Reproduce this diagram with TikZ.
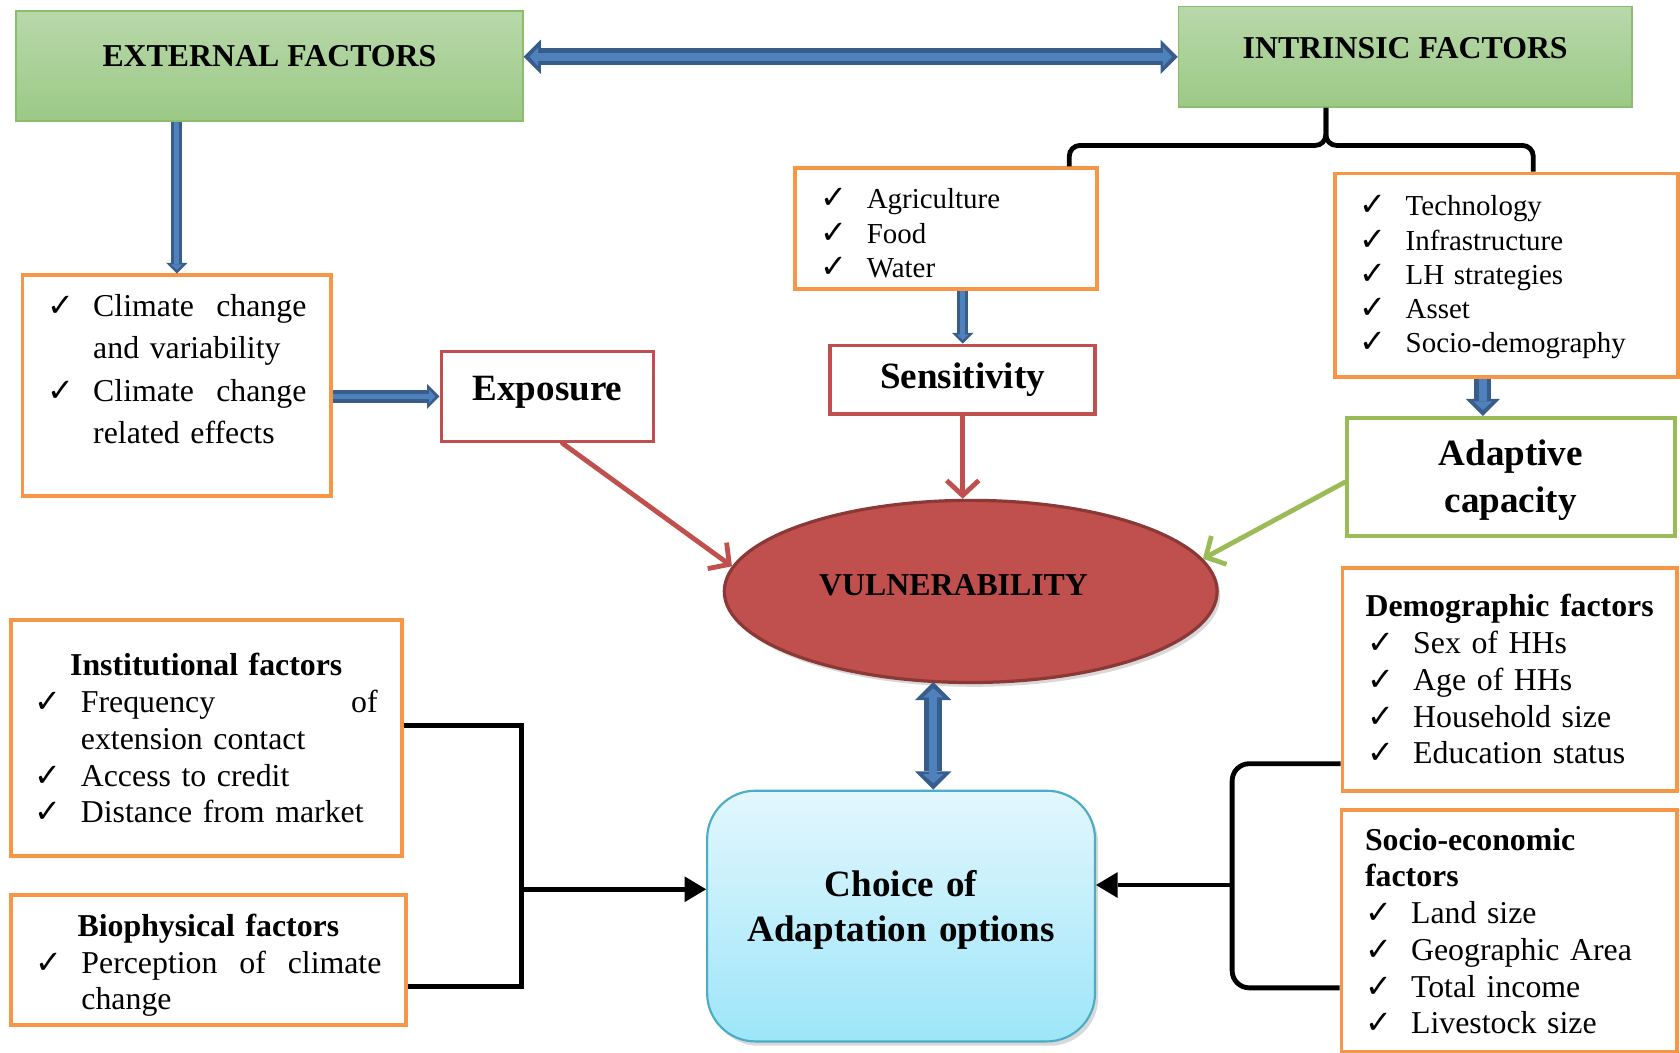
\documentclass[tikz,border=0pt]{standalone}
\usepackage{fontspec}
\setmainfont{Liberation Serif}
\newfontfamily\tickfont{DejaVu Sans}
\usetikzlibrary{positioning, arrows.meta, calc, shapes.geometric, shadows}
\definecolor{orng}{HTML}{F79646}
\definecolor{redc}{HTML}{C0504D}
\definecolor{reddk}{HTML}{8C3836}
\definecolor{grnc}{HTML}{9BBB59}
\definecolor{grnlt}{HTML}{B8D8AA}
\definecolor{grnmd}{HTML}{9CC986}
\definecolor{grnbd}{HTML}{8CBC6E}
\definecolor{bluelt}{HTML}{4F81BD}
\definecolor{bluedk}{HTML}{385D8A}
\definecolor{cyanbd}{HTML}{4BACC6}
\definecolor{cyantop}{HTML}{E3F7FD}
\definecolor{cyanbot}{HTML}{9DE5F9}

\newcommand{\ckm}{\makebox[43pt][l]{\tickfont\fontsize{30}{30}\selectfont ✓}}
\newcommand{\ckind}{\hspace*{43pt}}
\newcommand{\spread}{\hskip 0pt plus 1filll\relax}
\newcommand{\ctitle}[1]{\makebox[\linewidth]{\bfseries #1}}

\begin{document}
\begin{tikzpicture}[
  x=1pt, y=-1pt,
  hdr/.style={draw=grnbd, line width=1.5pt, top color=grnlt, bottom color=grnmd,
              font=\fontsize{29.7}{34}\selectfont\bfseries, inner sep=0pt},
  lst/.style={draw=orng, line width=3.5pt, fill=white, align=left, inner sep=0pt},
  lsts/.style={lst, font=\fontsize{27}{32}\selectfont},
  lstb/.style={lst, font=\fontsize{29.7}{34.3}\selectfont},
  key/.style={draw=redc, line width=3.5pt, fill=white, inner sep=0pt,
              font=\fontsize{34.6}{44}\selectfont\bfseries},
  vulner/.style={ellipse, draw=reddk, line width=3pt, fill=redc, inner sep=0pt,
                 font=\fontsize{29.7}{34}\selectfont\bfseries,
                 drop shadow={shadow xshift=3pt, shadow yshift=-4pt, fill=black!30, opacity=.5}},
  opts/.style={draw=cyanbd, line width=2pt, rounded corners=45pt, top color=cyantop,
               bottom color=cyanbot, align=center, inner sep=0pt,
               font=\fontsize{34.6}{42}\selectfont\bfseries,
               drop shadow={shadow xshift=3pt, shadow yshift=-4pt, fill=black!30, opacity=.5}},
  blk/.style={preaction={draw=bluedk, line width=#1*10pt, shorten >=0pt,
                -{Triangle[length=10pt, width=20pt, scale=#1, line width=0pt]}},
              draw=bluelt, line width=#1*4.5pt, shorten >=#1*3.5pt,
              -{Triangle[length=5pt, width=11pt, scale=#1, line width=0pt]}},
  blk/.default=1,
  dblk/.style={preaction={draw=bluedk, line width=#1*10pt, shorten <=0pt, shorten >=0pt,
                {Triangle[length=10pt, width=20pt, scale=#1, line width=0pt]}-{Triangle[length=10pt, width=20pt, scale=#1, line width=0pt]}},
               draw=bluelt, line width=#1*4.5pt, shorten <=#1*3.5pt, shorten >=#1*3.5pt,
               {Triangle[length=5pt, width=11pt, scale=#1, line width=0pt]}-{Triangle[length=5pt, width=11pt, scale=#1, line width=0pt]}},
  dblk/.default=1,
  redarr/.style={draw=redc, line width=4.5pt, line cap=round,
                 -{Straight Barb[length=14pt, width=30pt]}},
  brace/.style={draw=black, line width=4.5pt, rounded corners=10pt},
  conn/.style={draw=black, line width=4.5pt},
  connarr/.style={conn, -{Triangle[length=20pt, width=24pt, line width=0pt]}},
]
\useasboundingbox (0,0) rectangle (1568,982);

% ── factor headers ───────────────────────────────────────────────────────────
\node[hdr, minimum width=473pt, minimum height=103pt, text depth=19pt] (ext)
    at (251.5,61.5) {EXTERNAL FACTORS};
\node[hdr, minimum width=423pt, minimum height=94pt, text depth=17pt] (intr)
    at (1311.5,53) {INTRINSIC FACTORS};

% ── exposure side ────────────────────────────────────────────────────────────
\node[lst, font=\fontsize{29.7}{39.5}\selectfont, text width=242pt,
      minimum width=288pt, minimum height=206pt, text depth=150pt] (clim) at (165,360)
    {\ckm Climate\spread change\\
     \ckind and variability\\
     \ckm Climate\spread change\\
     \ckind related effects};
\node[key, minimum width=198pt, minimum height=84pt, text depth=15pt] (expo)
    at (511,370) {Exposure};

% ── sensitivity side ─────────────────────────────────────────────────────────
\node[lsts, text width=234pt, minimum width=282pt, minimum height=113pt,
      text depth=56pt] (agri) at (883,213.5)
    {\ckm Agriculture\\ \ckm Food\\ \ckm Water};
\node[key, minimum width=247pt, minimum height=64pt, below=49pt of agri, xshift=15.5pt]
    (sens) {Sensitivity};

% ── adaptive capacity side ───────────────────────────────────────────────────
\node[lsts, text width=274pt, minimum width=320pt, minimum height=190pt,
      text depth=130pt] (tech) at (1406,257)
    {\ckm Technology\\ \ckm Infrastructure\\ \ckm LH strategies\\
     \ckm Asset\\ \ckm Socio-demography};
\node[key, draw=grnc, align=center, text width=260pt, minimum width=306pt,
      minimum height=110pt, text depth=45pt] (adapt) at (1410,445) {Adaptive\\capacity};

% ── core ─────────────────────────────────────────────────────────────────────
\node[vulner, minimum width=460pt, minimum height=170pt, text depth=12pt] (vul)
    at (906,552) {VULNERABILITY\kern32pt};
\node[opts, text width=330pt, minimum width=362pt, minimum height=234pt,
      text depth=61pt] (choice) at (841,855) {Choice of\\Adaptation options};

% ── determinants of the choice ───────────────────────────────────────────────
\node[lstb, text width=320pt, minimum width=365pt, minimum height=220pt] (inst)
    at (192.5,689)
    {\ctitle{Institutional factors}\\
     \ckm Frequency\spread of\\
     \ckind extension contact\\
     \ckm Access to credit\\
     \ckm Distance from market};
\node[lstb, text width=323pt, minimum width=369pt, minimum height=122pt,
      text depth=65pt] (bio) at (194.5,896)
    {\ctitle{Biophysical factors}\\
     \ckm Perception\spread of\spread climate\\
     \ckind change};
\node[lstb, text width=266pt, minimum width=312pt, minimum height=208pt] (demo)
    at (1409,634)
    {\ctitle{Demographic factors}\\
     \ckm Sex of HHs\\ \ckm Age of HHs\\ \ckm Household size\\ \ckm Education status};
\node[lstb, text width=269pt, minimum width=313pt, minimum height=226pt] (socio)
    at (1408.5,869)
    {\textbf{Socio-economic}\\ \textbf{factors}\\
     \ckm Land size\\ \ckm Geographic Area\\ \ckm Total income\\ \ckm Livestock size};

% ── connectors ───────────────────────────────────────────────────────────────
\draw[dblk=1.6] (ext.east |- intr.west) -- (intr.west);
\draw[blk] (clim.north |- ext.south) -- (clim.north);
\draw[blk=1.15] (clim.east |- expo.west) -- (expo.west);
\draw[blk] (agri.south -| sens.north) -- (sens.north);
\draw[blk=1.6] ([xshift=-22pt]tech.south) -- ([xshift=-22pt]tech.south |- adapt.north);
\draw[dblk=1.7] ([xshift=30pt]choice.north) -- ([xshift=30pt,yshift=2pt]choice.north |- vul.south);

\draw[redarr] ([xshift=14pt]expo.south) -- (vul.174);
\draw[redarr] (sens.south) -- (sens.south |- vul.north);
\draw[redarr, draw=grnc] ([yshift=-5pt]adapt.west) -- (vul.8);

% intrinsic split (brace)
\coordinate (bl) at ([xshift=115pt]agri.north);
\coordinate (br) at ([xshift=25pt]tech.north);
\coordinate (bt) at ([xshift=-74pt]intr.south);
\draw[brace] (bl) |- ($(bt)+(0,35)$) -- (bt);
\draw[brace] (bt) -- ($(bt)+(0,35)$) -| (br);

% left bracket
\coordinate (lbar) at (487,830);
\draw[conn] ([yshift=12pt]inst.east) -| (lbar) |- ([yshift=-25pt]bio.east);
\draw[connarr] (lbar) -- (choice.west |- lbar);

% right bracket
\coordinate (rbar) at (1150,826);
\draw[conn, rounded corners=16pt] ([yshift=27pt]demo.south west) -| (rbar)
    |- ([yshift=-53pt]socio.west);
\draw[connarr] (rbar) -- (choice.east |- rbar);

\end{tikzpicture}
\end{document}
